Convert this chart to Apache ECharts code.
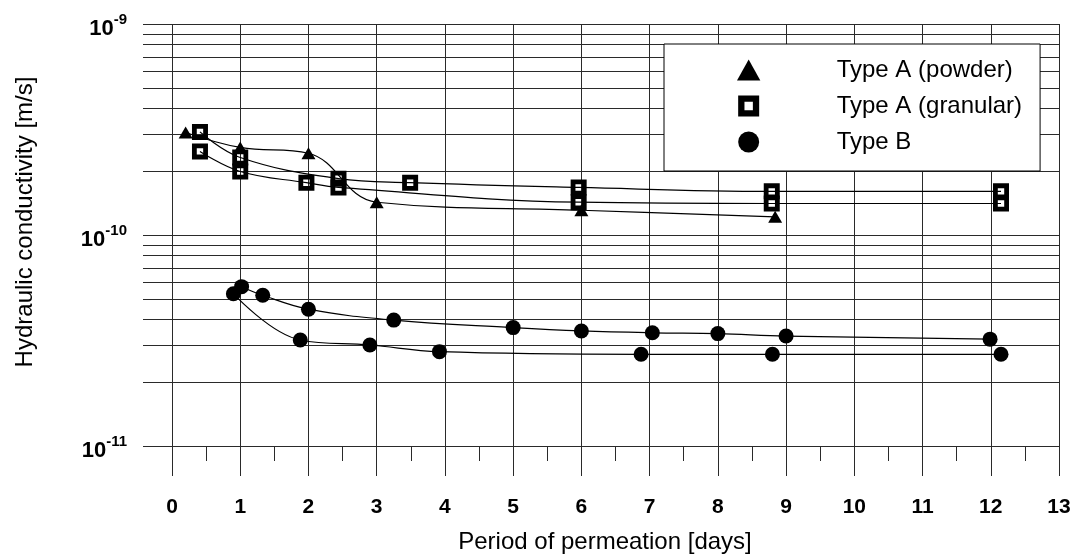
<!DOCTYPE html>
<html>
<head>
<meta charset="utf-8">
<title>Hydraulic conductivity</title>
<script src="https://cdn.jsdelivr.net/npm/echarts@6.0.0/dist/echarts.min.js"></script>
<style>
  html, body { margin: 0; padding: 0; background: #fff; }
  .main { width: 1074px; height: 554px; }
</style>
</head>
<body>
<div class="main"></div>
<script>
  // period of permeation [days] / hydraulic conductivity [m/s]
  var powderX = [0.2, 1, 2, 3, 6, 8.84];
  var powderY = [3.06e-10, 2.6e-10, 2.44e-10, 1.43e-10, 1.31e-10, 1.22e-10];

  var granularUpperX = [0.41, 1, 2.44, 3.49, 5.96, 8.79, 12.15];
  var granularUpperY = [3.08e-10, 2.33e-10, 1.85e-10, 1.77e-10, 1.68e-10, 1.61e-10, 1.61e-10];
  var granularLowerX = [0.41, 1, 1.97, 2.44, 5.96, 8.79, 12.15];
  var granularLowerY = [2.49e-10, 2.0e-10, 1.77e-10, 1.68e-10, 1.43e-10, 1.41e-10, 1.41e-10];

  var typeBUpperX = [1.02, 1.33, 2.0, 3.25, 5.0, 6.0, 7.04, 8.0, 9.0, 11.99];
  var typeBUpperY = [5.69e-11, 5.18e-11, 4.45e-11, 3.95e-11, 3.64e-11, 3.51e-11, 3.44e-11, 3.41e-11, 3.32e-11, 3.21e-11];
  var typeBLowerX = [0.9, 1.88, 2.9, 3.92, 6.875, 8.8, 12.15];
  var typeBLowerY = [5.27e-11, 3.18e-11, 3.01e-11, 2.80e-11, 2.72e-11, 2.72e-11, 2.72e-11];

  // minor horizontal grid (2..9 of each decade)
  var minorLevels = [2e-11, 3e-11, 4e-11, 5e-11, 6e-11, 7e-11, 8e-11, 9e-11,
                     2e-10, 3e-10, 4e-10, 5e-10, 6e-10, 7e-10, 8e-10, 9e-10];

  var seriesNames = ['Type A (powder)', 'Type A (granular)', 'Type B'];

  function pairs(xs, ys) {
    return xs.map(function (x, i) { return [x, ys[i]]; });
  }

  var font = 'Liberation Sans, Arial, sans-serif';
  var gridColor = '#2a2a2a';
  var triangleIcon = 'path://M5,0L10,9H0Z';
  // hollow square: black frame with a hole
  var squareIcon = 'path://M0,0H10V10H0Z M3,3V7H7V3Z';

  function fitLine(data) {
    return {
      type: 'line', xAxisIndex: 1, yAxisIndex: 1,
      data: data, smooth: 0.4, symbol: 'none', silent: true, z: 2,
      lineStyle: { color: '#000', width: 1.2 }
    };
  }

  var myChart = echarts.init(document.querySelector('.main'));
  var option = {
    animation: false,
    textStyle: { fontFamily: font, color: '#000' },
    grid: [
      { left: 143, right: 15, top: 24, bottom: 108, outerBoundsMode: 'none' },   // horizontal lines
      { left: 172, right: 15, top: 24, bottom: 108, outerBoundsMode: 'none' }    // data area
    ],
    legend: {
      data: seriesNames,
      orient: 'vertical',
      left: 664, top: 44,
      itemWidth: 166, itemHeight: 21, itemGap: 12,
      symbolKeepAspect: true,
      padding: [14, 18, 17, 73],
      backgroundColor: '#fff', borderColor: '#000', borderWidth: 1,
      selectedMode: false,
      textStyle: { fontSize: 24, color: '#000', fontFamily: font }
    },
    xAxis: [
      { gridIndex: 0, type: 'value', min: 0, max: 1, show: false },
      {
        gridIndex: 1, type: 'value', min: 0, max: 13, interval: 1,
        name: 'Period of permeation [days]',
        nameLocation: 'middle', nameGap: 84,
        nameTextStyle: { fontSize: 24, color: '#000', fontFamily: font, padding: [0, 21, 0, 0] },
        axisLine: { show: true, lineStyle: { color: gridColor, width: 1 } },
        axisTick: { show: true, length: 30, lineStyle: { color: gridColor, width: 1 } },
        minorTick: { show: true, splitNumber: 2, length: 15, lineStyle: { color: gridColor, width: 1 } },
        axisLabel: { fontSize: 21, fontWeight: 'bold', color: '#000', margin: 51, fontFamily: font },
        splitLine: { show: true, lineStyle: { color: gridColor, width: 1 } }
      }
    ],
    yAxis: [
      {
        gridIndex: 0, type: 'log', logBase: 10, min: 1e-11, max: 1e-9,
        name: 'Hydraulic conductivity [m/s]',
        nameLocation: 'middle', nameGap: 106,
        nameTextStyle: { fontSize: 24, color: '#000', fontFamily: font, padding: [0, 0, 0, 26] },
        axisLine: { show: false },
        axisTick: { show: false },
        splitLine: { show: true, lineStyle: { color: gridColor, width: 1 } },
        axisLabel: {
          margin: 16, padding: [4, 0, 0, 0],
          formatter: function (v) {
            var e = Math.round(Math.log(v) / Math.LN10);
            return '{b|10}{s|' + e + '}';
          },
          rich: {
            b: { fontSize: 22, fontWeight: 'bold', color: '#000', fontFamily: font, lineHeight: 28, verticalAlign: 'bottom' },
            s: { fontSize: 15, fontWeight: 'bold', color: '#000', fontFamily: font, lineHeight: 15, verticalAlign: 'top' }
          }
        }
      },
      {
        gridIndex: 1, type: 'log', logBase: 10, min: 1e-11, max: 1e-9,
        axisLine: { show: false }, axisTick: { show: false },
        axisLabel: { show: false }, splitLine: { show: false }
      }
    ],
    series: [
      fitLine(pairs(powderX, powderY)),
      fitLine(pairs(granularUpperX, granularUpperY)),
      fitLine(pairs(granularLowerX, granularLowerY)),
      fitLine(pairs(typeBUpperX, typeBUpperY)),
      fitLine(pairs(typeBLowerX, typeBLowerY)),
      {
        name: seriesNames[0], type: 'scatter', xAxisIndex: 1, yAxisIndex: 1, z: 4,
        symbol: triangleIcon, symbolSize: [14, 12],
        itemStyle: { color: '#000', opacity: 1 },
        data: pairs(powderX, powderY)
      },
      {
        name: seriesNames[1], type: 'scatter', xAxisIndex: 1, yAxisIndex: 1, z: 4,
        symbol: squareIcon, symbolSize: 16,
        itemStyle: { color: '#000', opacity: 1 },
        data: pairs(granularUpperX, granularUpperY).concat(pairs(granularLowerX, granularLowerY))
      },
      {
        name: seriesNames[2], type: 'scatter', xAxisIndex: 1, yAxisIndex: 1, z: 4,
        symbol: 'circle', symbolSize: 15,
        itemStyle: { color: '#000', opacity: 1 },
        data: pairs(typeBUpperX, typeBUpperY).concat(pairs(typeBLowerX, typeBLowerY))
      }
    ]
  };
  myChart.setOption(option);

  // minor log grid lines, placed through the log axis of the first grid
  var gx1 = myChart.convertToPixel({ xAxisIndex: 0 }, 0);
  var gx2 = myChart.convertToPixel({ xAxisIndex: 0 }, 1);
  var minorLines = minorLevels.map(function (v) {
    var y = Math.round(myChart.convertToPixel({ yAxisIndex: 0 }, v)) + 0.5;
    return {
      type: 'line', silent: true, z: 0,
      shape: { x1: gx1, y1: y, x2: gx2, y2: y },
      style: { stroke: gridColor, lineWidth: 1 }
    };
  });
  myChart.setOption({ graphic: minorLines });
</script>
</body>
</html>
